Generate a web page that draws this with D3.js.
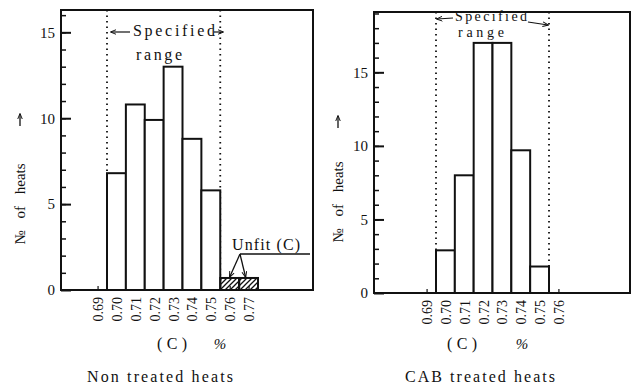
<!DOCTYPE html>
<html>
<head>
<meta charset="utf-8">
<script src="https://cdn.jsdelivr.net/npm/d3@7"></script>
<style>
  body { margin: 0; background: #fff; }
  svg { display: block; }
  text { font-family: "Liberation Serif", "Times New Roman", serif; fill: #111; }
</style>
</head>
<body>
<svg id="chart" width="632" height="388"></svg>
<script>
// carbon content bins (%)
const leftTickBins = [0.69, 0.70, 0.71, 0.72, 0.73, 0.74, 0.75, 0.76, 0.77];
const rightTickBins = [0.69, 0.70, 0.71, 0.72, 0.73, 0.74, 0.75, 0.76];
const specRange = [0.695, 0.755];

// non treated heats
const nonTreatedBins = [0.70, 0.71, 0.72, 0.73, 0.74, 0.75];
const nonTreatedCounts = [6.8, 10.8, 9.9, 13.0, 8.8, 5.8];
const unfitBins = [0.76, 0.77];
const unfitCounts = [0.7, 0.7];

// CAB treated heats
const cabBins = [0.70, 0.71, 0.72, 0.73, 0.74, 0.75];
const cabCounts = [2.9, 8.0, 17.0, 17.0, 9.7, 1.8];

const yMajor = [0, 5, 10, 15];

const svg = d3.select("#chart");
const binW = 0.01;

const defs = svg.append("defs");
defs.append("pattern")
  .attr("id", "hatch")
  .attr("patternUnits", "userSpaceOnUse")
  .attr("width", 5).attr("height", 5)
  .append("path")
  .attr("d", "M-1,1 L1,-1 M0,5 L5,0 M4,6 L6,4")
  .attr("stroke", "#111").attr("stroke-width", 1.3);
defs.append("marker")
  .attr("id", "arr")
  .attr("viewBox", "0 0 10 10")
  .attr("refX", 9).attr("refY", 5)
  .attr("markerUnits", "userSpaceOnUse")
  .attr("markerWidth", 6).attr("markerHeight", 6)
  .attr("orient", "auto")
  .append("path")
  .attr("d", "M0,1 L10,5 L0,9")
  .attr("fill", "none").attr("stroke", "#111").attr("stroke-width", 1.6);

function arrow(x1, y1, x2, y2, sw) {
  svg.append("line")
    .attr("x1", x1).attr("y1", y1).attr("x2", x2).attr("y2", y2)
    .attr("stroke", "#111").attr("stroke-width", sw || 1.2)
    .attr("marker-end", "url(#arr)");
}

function panel(cfg) {
  const { left, right, top, bottom, yMax, xDomain, xRange } = cfg;
  const g = svg.append("g");
  const x = d3.scaleLinear().domain(xDomain).range(xRange);
  const y = d3.scaleLinear().domain([0, yMax]).range([bottom, top]);

  // minor y ticks (inward)
  g.append("g")
    .attr("transform", `translate(${left},0)`)
    .call(d3.axisLeft(y).tickValues(d3.range(1, Math.floor(yMax) + 1)).tickSize(-5).tickFormat(""))
    .call(a => a.select(".domain").remove())
    .call(a => a.selectAll("line").attr("stroke", "#111").attr("stroke-width", 1.5));
  // major y ticks
  g.append("g")
    .attr("transform", `translate(${left},0)`)
    .call(d3.axisLeft(y).tickValues(yMajor).tickSize(-10).tickPadding(6).tickFormat(d3.format("d")))
    .call(a => a.select(".domain").remove())
    .call(a => a.selectAll("line").attr("stroke", "#111").attr("stroke-width", 2))
    .call(a => a.selectAll("text").attr("font-size", 15).attr("font-family", "Liberation Serif"));

  // x ticks at bin centres, labels rotated
  g.append("g")
    .attr("transform", `translate(0,${bottom})`)
    .call(d3.axisBottom(x).tickValues(cfg.ticks).tickSize(-4).tickPadding(0).tickFormat(d3.format(".2f")))
    .call(a => a.select(".domain").remove())
    .call(a => a.selectAll("line").attr("stroke", "#111").attr("stroke-width", 1.2))
    .call(a => a.selectAll("text")
      .attr("font-size", 14).attr("font-family", "Liberation Serif")
      .attr("text-anchor", "end").attr("dy", null).attr("y", 0)
      .attr("transform", "translate(5,7) rotate(-90)"));

  // spec range dotted lines
  g.selectAll(".spec").data(specRange).join("line")
    .attr("x1", d => x(d)).attr("x2", d => x(d))
    .attr("y1", top).attr("y2", bottom)
    .attr("stroke", "#111").attr("stroke-width", 1.8).attr("stroke-dasharray", "1.5,4");

  // bars
  g.selectAll(".bar").data(cfg.bins.map((b, i) => ({ b, v: cfg.counts[i] }))).join("rect")
    .attr("x", d => x(d.b - binW / 2)).attr("width", d => x(d.b + binW / 2) - x(d.b - binW / 2))
    .attr("y", d => y(d.v)).attr("height", d => y(0) - y(d.v))
    .attr("fill", "#fff").attr("stroke", "#111").attr("stroke-width", 2);

  // frame
  g.append("path")
    .attr("d", `M${left},${top} H${right} V${bottom} H${left} Z`)
    .attr("fill", "none").attr("stroke", "#111").attr("stroke-width", 2);

  return { g, x, y };
}

const L = panel({
  left: 61, right: 313, top: 10, bottom: 290, yMax: 16.3,
  xDomain: [0.695, 0.775], xRange: [107, 258],
  ticks: leftTickBins, bins: nonTreatedBins, counts: nonTreatedCounts
});
const R = panel({
  left: 374, right: 630, top: 12, bottom: 293, yMax: 19.1,
  xDomain: [0.695, 0.755], xRange: [436, 549],
  ticks: rightTickBins, bins: cabBins, counts: cabCounts
});

// unfit hatched bars
L.g.selectAll(".unfit").data(unfitBins.map((b, i) => ({ b, v: unfitCounts[i] }))).join("rect")
  .attr("x", d => L.x(d.b - binW / 2)).attr("width", d => L.x(d.b + binW / 2) - L.x(d.b - binW / 2))
  .attr("y", d => L.y(d.v)).attr("height", d => L.y(0) - L.y(d.v))
  .attr("fill", "url(#hatch)").attr("stroke", "#111").attr("stroke-width", 2);

L.g.append("text").attr("x", 232).attr("y", 250).attr("font-size", 16)
  .attr("textLength", 68).attr("lengthAdjust", "spacing").text("Unfit (C)");
L.g.append("line").attr("x1", 240).attr("y1", 254).attr("x2", 310).attr("y2", 254)
  .attr("stroke", "#111").attr("stroke-width", 1.3);
unfitBins.forEach((b, i) => {
  arrow(240, 254, L.x(b) + (i ? -3 : 0), L.y(unfitCounts[i]) - 1, 1.3);
});

// specified range labels
function specLabel(p, fs, yy, rangeY, specStart, specLen, arrows) {
  p.g.append("text").attr("x", specStart).attr("y", yy).attr("font-size", fs)
    .attr("textLength", specLen).attr("lengthAdjust", "spacing").text("Specified");
  p.g.append("text").attr("x", specStart + 3).attr("y", rangeY).attr("font-size", fs)
    .attr("textLength", 46).attr("lengthAdjust", "spacing").text("range");
  arrows.forEach(a => arrow(...a));
}
specLabel(L, 16, 36, 60, 133, 82, [[130, 32, 111, 32], [214, 32, 223, 32]]);
specLabel(R, 14, 21, 37, 455, 72, [[453, 18, 437, 19], [528, 22, 548, 25]]);

// y labels
function yLabel(cx, cy, ax, ay) {
  svg.append("text")
    .attr("transform", `translate(${cx},${cy}) rotate(-90)`)
    .attr("text-anchor", "middle").attr("font-size", 15).attr("word-spacing", 8)
    .text("№ of heats");
  arrow(ax, ay + 6, ax, ay - 6, 1.3);
}
yLabel(25, 204, 20, 120);
yLabel(343, 202, 338, 122);

// x labels
[[172, 220], [462, 522]].forEach(([cx, px]) => {
  svg.append("text").attr("x", cx).attr("y", 349).attr("text-anchor", "middle")
    .attr("font-size", 16).attr("textLength", 30).attr("lengthAdjust", "spacing").text("(C)");
  svg.append("text").attr("x", px).attr("y", 349).attr("text-anchor", "middle")
    .attr("font-size", 15).attr("font-style", "italic").text("%");
});

svg.append("text").attr("x", 160).attr("y", 382).attr("text-anchor", "middle")
  .attr("font-size", 16).attr("textLength", 146).attr("lengthAdjust", "spacing")
  .text("Non treated heats");
svg.append("text").attr("x", 480).attr("y", 382).attr("text-anchor", "middle")
  .attr("font-size", 16).attr("textLength", 150).attr("lengthAdjust", "spacing")
  .text("CAB treated heats");
</script>
</body>
</html>
